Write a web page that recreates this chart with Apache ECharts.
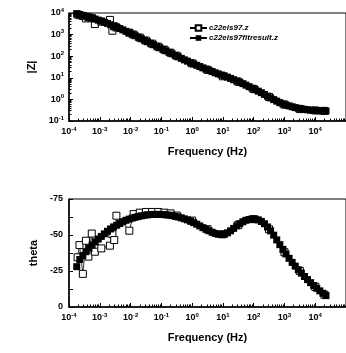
<!DOCTYPE html>
<html>
<head>
<meta charset="utf-8">
<script src="https://cdn.jsdelivr.net/npm/echarts@6/dist/echarts.min.js"></script>
<style>
  html, body { margin: 0; padding: 0; background: #fff; }
  #chart { width: 346px; height: 353px; }
</style>
</head>
<body>
<div id="chart"></div>
<script>
// log10 of frequency (Hz) for the fitted curve
const fitLogF = [
  -3.75, -3.65, -3.55, -3.45, -3.35, -3.25, -3.15, -3.05, -2.95, -2.85,
  -2.75, -2.65, -2.55, -2.45, -2.35, -2.25, -2.15, -2.05, -1.95, -1.85,
  -1.75, -1.65, -1.55, -1.45, -1.35, -1.25, -1.15, -1.05, -0.95, -0.85,
  -0.75, -0.65, -0.55, -0.45, -0.35, -0.25, -0.15, -0.05, 0.05, 0.15,
  0.25, 0.35, 0.45, 0.55, 0.65, 0.75, 0.85, 0.95, 1.05, 1.15,
  1.25, 1.35, 1.45, 1.55, 1.65, 1.75, 1.85, 1.95, 2.05, 2.15,
  2.25, 2.35, 2.45, 2.55, 2.65, 2.75, 2.85, 2.95, 3.05, 3.15,
  3.25, 3.35, 3.45, 3.55, 3.65, 3.75, 3.85, 3.95, 4.05, 4.15,
  4.25, 4.35
];
// log10 |Z| of the fit
const fitLogZ = [
  3.97, 3.93, 3.89, 3.85, 3.81, 3.77, 3.72, 3.67, 3.62, 3.57,
  3.52, 3.46, 3.40, 3.34, 3.28, 3.22, 3.15, 3.09, 3.02, 2.95,
  2.88, 2.81, 2.74, 2.67, 2.60, 2.53, 2.46, 2.39, 2.32, 2.25,
  2.18, 2.11, 2.04, 1.97, 1.90, 1.83, 1.77, 1.70, 1.64, 1.58,
  1.52, 1.46, 1.40, 1.34, 1.29, 1.23, 1.18, 1.13, 1.08, 1.03,
  0.97, 0.91, 0.85, 0.79, 0.73, 0.66, 0.59, 0.52, 0.45, 0.38,
  0.31, 0.23, 0.15, 0.07, -0.01, -0.08, -0.15, -0.21, -0.26, -0.30,
  -0.34, -0.38, -0.41, -0.44, -0.46, -0.48, -0.50, -0.51, -0.52, -0.53,
  -0.53, -0.54
];
// phase of the fit (deg)
const fitTheta = [
  -28.0, -33.0, -35.8, -38.4, -40.8, -43.0, -45.2, -47.2, -49.0, -50.8,
  -52.6, -54.2, -55.6, -56.8, -58.0, -59.2, -60.2, -61.0, -61.7, -62.3,
  -62.8, -63.3, -63.7, -64.0, -64.2, -64.3, -64.3, -64.3, -64.2, -64.0,
  -63.8, -63.5, -63.0, -62.5, -61.9, -61.2, -60.5, -59.6, -58.6, -57.5,
  -56.3, -55.1, -54.0, -52.9, -51.9, -51.1, -50.5, -50.3, -50.6, -51.5,
  -52.9, -54.6, -56.3, -57.9, -59.2, -60.2, -60.8, -61.1, -61.0, -60.5,
  -59.4, -57.8, -55.6, -52.9, -49.9, -46.6, -43.3, -40.0, -36.8, -33.8,
  -31.0, -28.4, -25.9, -23.5, -21.2, -19.0, -16.9, -14.9, -13.0, -11.2,
  -9.5, -7.9
];

// measured data (open squares)
const dataLogF = [
  -3.72, -3.66, -3.55, -3.45, -3.37, -3.26, -3.16, -2.95, -2.67, -2.59,
  -2.53, -2.46, -2.04, -1.9, -1.7, -1.5, -1.3, -1.1, -0.9, -0.7,
  -0.5, 0.0, 0.5, 1.0, 1.5, 2.0, 2.5, 3.0, 3.5, 4.0, 4.3
];
const dataLogZ = [
  3.93, 3.90, 3.86, 3.75, 3.80, 3.76, 3.49, 3.60, 3.68, 3.18,
  3.38, 3.33, 3.09, 3.00, 2.86, 2.72, 2.58, 2.44, 2.30, 2.16,
  2.02, 1.67, 1.37, 1.07, 0.82, 0.48, 0.11, -0.24, -0.45, -0.51,
  -0.53
];
const dataTheta = [
  -34.5, -43.0, -23.0, -46.0, -35.0, -51.0, -38.4, -40.7, -42.6, -50.5,
  -46.5, -63.4, -53.0, -64.5, -65.5, -66.0, -66.0, -66.0, -65.5, -65.0,
  -63.5, -60.0, -54.0, -50.5, -57.0, -61.0, -54.0, -38.0, -25.0, -14.0,
  -8.5
];

const freqDecades = [-4, -3, -2, -1, 0, 1, 2, 3, 4];
const zDecades = [-1, 0, 1, 2, 3, 4];
const thetaTicks = [-75, -50, -25, 0];
const minorSteps = [2, 3, 4, 5, 6, 7, 8, 9];

const FONT = 'Liberation Sans, Arial, sans-serif';

function minorTicks(decades, max) {
  const out = [];
  decades.forEach(d => minorSteps.forEach(k => {
    const v = d + Math.log10(k);
    if (v < max) out.push(v);
  }));
  return out;
}

const powerLabel = {
  formatter: v => '{b|10}{s|' + Math.round(v) + '}',
  rich: {
    b: { fontSize: 9, fontWeight: 'bold', fontFamily: FONT, color: '#000', lineHeight: 12 },
    s: { fontSize: 6, fontWeight: 'bold', fontFamily: FONT, color: '#000', verticalAlign: 'top', lineHeight: 8 }
  }
};

const grids = [
  { left: 69, right: -11, top: 13, height: 108 },
  { left: 69, right: -11, top: 199, height: 108 }
];

function freqAxes(gridIndex) {
  return [{
    type: 'value', gridIndex, min: -4, max: 5, position: 'bottom',
    name: 'Frequency (Hz)', nameLocation: 'middle', nameGap: 25,
    nameTextStyle: { fontSize: 11, fontWeight: 'bold', fontFamily: FONT, color: '#000' },
    axisLine: { onZero: false, lineStyle: { color: '#000', width: 1.5 } },
    axisTick: { inside: true, length: 4, customValues: freqDecades, lineStyle: { color: '#000', width: 1 } },
    axisLabel: Object.assign({ margin: 5, customValues: freqDecades }, powerLabel),
    splitLine: { show: false }
  }, {
    type: 'value', gridIndex, min: -4, max: 5, position: 'bottom',
    axisLine: { show: false, onZero: false },
    axisTick: { inside: true, length: 2.5, customValues: minorTicks(freqDecades, 5), lineStyle: { color: '#000', width: 1 } },
    axisLabel: { show: false },
    splitLine: { show: false }
  }];
}

const option = {
  animation: false,
  backgroundColor: '#fff',
  grid: grids.map(g => Object.assign({ show: true, borderColor: '#000', borderWidth: 1, backgroundColor: 'transparent' }, g)),
  legend: {
    left: 184, top: 19, orient: 'vertical',
    itemWidth: 17, itemHeight: 7, itemGap: 2,
    data: ['c22eis97.z', 'c22eis97fitresult.z'],
    textStyle: { fontSize: 8, fontStyle: 'italic', fontWeight: 'bold', fontFamily: FONT, color: '#000', padding: [0, 0, 0, -3] }
  },
  xAxis: freqAxes(0).concat(freqAxes(1)),
  yAxis: [{
    type: 'value', gridIndex: 0, min: -1, max: 4, position: 'left',
    name: '|Z|', nameLocation: 'middle', nameGap: 27, nameRotate: 90,
    nameTextStyle: { fontSize: 11, fontWeight: 'bold', fontFamily: FONT, color: '#000' },
    axisLine: { onZero: false, lineStyle: { color: '#000', width: 1.5 } },
    axisTick: { inside: true, length: 4, customValues: zDecades, lineStyle: { color: '#000' } },
    axisLabel: Object.assign({ margin: 5, customValues: zDecades }, powerLabel),
    splitLine: { show: false }
  }, {
    type: 'value', gridIndex: 0, min: -1, max: 4, position: 'left',
    axisLine: { show: false, onZero: false },
    axisTick: { inside: true, length: 2.5, customValues: minorTicks(zDecades, 4), lineStyle: { color: '#000' } },
    axisLabel: { show: false },
    splitLine: { show: false }
  }, {
    type: 'value', gridIndex: 1, min: -75, max: 0, interval: 25, inverse: true, position: 'left',
    name: 'theta', nameLocation: 'middle', nameGap: 27, nameRotate: 90,
    nameTextStyle: { fontSize: 11, fontWeight: 'bold', fontFamily: FONT, color: '#000' },
    axisLine: { onZero: false, lineStyle: { color: '#000', width: 1.5 } },
    axisTick: { inside: true, length: 4, lineStyle: { color: '#000' } },
    minorTick: { show: true, splitNumber: 2, length: 4, lineStyle: { color: '#000' } },
    axisLabel: { margin: 6, fontSize: 9, fontWeight: 'bold', fontFamily: FONT, color: '#000', customValues: thetaTicks },
    splitLine: { show: false }
  }],
  series: [
    {
      name: 'c22eis97.z', type: 'line', xAxisIndex: 0, yAxisIndex: 0,
      data: dataLogF.map((f, i) => [f, dataLogZ[i]]),
      symbol: 'rect', symbolSize: 7,
      itemStyle: { color: '#fff', borderColor: '#000', borderWidth: 1 },
      lineStyle: { color: '#000', width: 0.8 }
    },
    {
      name: 'c22eis97fitresult.z', type: 'line', xAxisIndex: 0, yAxisIndex: 0,
      data: fitLogF.map((f, i) => [f, fitLogZ[i]]),
      symbol: 'rect', symbolSize: 7,
      itemStyle: { color: '#000', borderColor: '#000', borderWidth: 0 },
      lineStyle: { color: '#000', width: 1 }
    },
    {
      name: 'c22eis97.z', type: 'line', xAxisIndex: 2, yAxisIndex: 2,
      data: dataLogF.map((f, i) => [f, dataTheta[i]]),
      symbol: 'rect', symbolSize: 7,
      itemStyle: { color: '#fff', borderColor: '#000', borderWidth: 1 },
      lineStyle: { color: '#000', width: 0.8 }
    },
    {
      name: 'c22eis97fitresult.z', type: 'line', xAxisIndex: 2, yAxisIndex: 2,
      data: fitLogF.map((f, i) => [f, fitTheta[i]]),
      symbol: 'rect', symbolSize: 7,
      itemStyle: { color: '#000', borderColor: '#000', borderWidth: 0 },
      lineStyle: { color: '#000', width: 1 }
    }
  ]
};

const chart = echarts.init(document.getElementById('chart'), null, { renderer: 'canvas' });
chart.setOption(option);
window.addEventListener('resize', () => chart.resize());
</script>
</body>
</html>
